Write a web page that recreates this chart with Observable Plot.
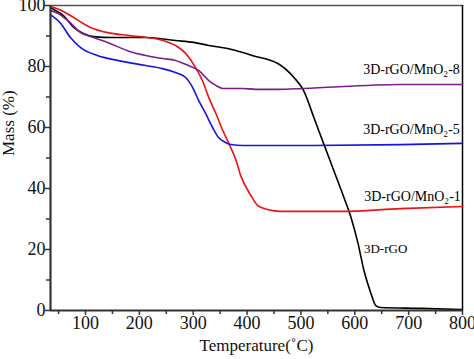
<!DOCTYPE html>
<html>
<head>
<meta charset="utf-8">
<script src="https://cdn.jsdelivr.net/npm/d3@7"></script>
<script src="https://cdn.jsdelivr.net/npm/@observablehq/plot@0.6"></script>
<style>
  html, body { margin: 0; padding: 0; background: #fff; }
  #chart svg text { font-family: "Liberation Serif", "Times New Roman", serif !important; }
</style>
</head>
<body>
<div id="chart"></div>
<script>
// 3D-rGO
const rgoT = [35,44,59,78,96,115,150,212,267,301,329,364,392,416,440,457,487,505,524,542,561,580,593,606,617,630,639,648,723,800];
const rgoM = [99.3,98.4,96.7,92.8,90.8,89.8,89.5,89.5,88.5,87.9,86.9,85.9,84.6,83.3,82.2,81.0,76.4,72.1,63.3,54.8,45.9,37.0,30.5,22.0,13.1,5.6,1.6,1.0,0.7,0.3];
// 3D-rGO/MnO2-1
const mn1T = [35,50,72,109,141,178,215,245,267,286,304,317,329,342,355,366,379,388,407,420,438,462,574,685,800];
const mn1M = [99.7,98.8,96.7,92.8,91.1,90.2,89.5,88.5,86.9,84.3,79.7,75.4,69.8,64.6,59.0,54.8,49.5,44.3,37.7,34.4,33.1,32.5,32.5,33.4,34.1];
// 3D-rGO/MnO2-5
const mn5T = [35,54,72,91,122,159,212,243,267,286,299,310,323,336,347,360,370,392,500,685,800];
const mn5M = [97.0,94.1,89.5,86.2,83.6,82.0,80.3,79.3,78.0,76.4,73.1,68.9,64.6,60.0,56.7,55.1,54.4,54.1,54.1,54.4,54.8];
// 3D-rGO/MnO2-8
const mn8T = [35,50,67,91,115,141,178,212,243,267,291,310,329,342,355,392,416,457,505,685,800];
const mn8M = [98.4,97.3,95.1,91.1,89.5,87.9,85.2,83.6,82.6,82.0,80.3,78.7,75.4,73.8,72.8,72.8,72.5,72.5,72.8,74.1,74.1];

const seriesNames = ["3D-rGO", "3D-rGO/MnO₂-1", "3D-rGO/MnO₂-5", "3D-rGO/MnO₂-8"];
const seriesColors = ["#000000", "#ee1111", "#1515e0", "#7d1d8c"];

const xTicks = [100,200,300,400,500,600,700,800];
const xMinor = [50,150,250,350,450,550,650,750];
const yTicks = [0,20,40,60,80,100];
const yMinor = [10,30,50,70,90];

const labelNames = ["3D-rGO/MnO₂-8", "3D-rGO/MnO₂-5", "3D-rGO/MnO₂-1", "3D-rGO"];
const labelT = [795, 795, 797, 617];
const labelM = [79, 59.2, 37.4, 20.3];
const labelAnchors = ["end", "end", "end", "start"];

const toRows = (name, T, M) => T.map((t, i) => ({series: name, t, m: M[i]}));
const rows = [
  ...toRows(seriesNames[0], rgoT, rgoM),
  ...toRows(seriesNames[1], mn1T, mn1M),
  ...toRows(seriesNames[2], mn5T, mn5M),
  ...toRows(seriesNames[3], mn8T, mn8M)
];
const labels = labelNames.map((n, i) => ({n, t: labelT[i], m: labelM[i], a: labelAnchors[i]}));

const font = "Liberation Serif, Times New Roman, serif";

const chart = Plot.plot({
  width: 474,
  height: 359,
  marginLeft: 50,
  marginRight: 12,
  marginTop: 5,
  marginBottom: 49,
  style: {fontFamily: font, fontSize: "17px", background: "#fff", color: "#222"},
  x: {domain: [35, 800]},
  y: {domain: [0, 100]},
  color: {domain: seriesNames, range: seriesColors},
  marks: [
    Plot.ruleY([100], {stroke: "#555", strokeWidth: 1.5}),
    Plot.ruleX([800], {stroke: "#000", strokeWidth: 1.5}),
    Plot.line(rows, {x: "t", y: "m", z: "series", stroke: "series", strokeWidth: 1.6, curve: "monotone-x"}),
    Plot.ruleX([35], {stroke: "#333", strokeWidth: 2.2}),
    Plot.ruleY([0], {stroke: "#333", strokeWidth: 2.2}),
    Plot.axisX(xTicks, {tickSize: 5, tickFormat: () => "", stroke: "#333", strokeWidth: 1.5, label: null}),
    Plot.axisX(xMinor, {tickSize: 4, tickFormat: () => "", stroke: "#333", strokeWidth: 1.5, label: null}),
    Plot.axisY(yTicks, {tickSize: 5, tickFormat: () => "", stroke: "#333", strokeWidth: 1.5, label: null}),
    Plot.axisY(yMinor, {tickSize: 4, tickFormat: () => "", stroke: "#333", strokeWidth: 1.5, label: null}),
    Plot.text(xTicks, {x: d => d, frameAnchor: "bottom", dy: 18, text: d => String(d), fontSize: 18, fill: "#111"}),
    Plot.text(yTicks, {y: d => d, frameAnchor: "left", dx: -5, textAnchor: "end", text: d => String(d), fontSize: 18, fill: "#111"}),
    Plot.text(["Temperature(˚C)"], {frameAnchor: "bottom", dy: 40, fontSize: 17, fill: "#111"}),
    Plot.text(["Mass (%)"], {frameAnchor: "left", dx: -42, dy: -2, rotate: -90, fontSize: 17, fill: "#111"}),
    Plot.text(labels.filter(d => d.a === "end"), {x: "t", y: "m", text: "n", textAnchor: "end", fontSize: 14, fill: "#000"}),
    Plot.text(labels.filter(d => d.a === "start"), {x: "t", y: "m", text: "n", textAnchor: "start", fontSize: 13, fill: "#000"})
  ]
});
document.getElementById("chart").appendChild(chart);
</script>
</body>
</html>
